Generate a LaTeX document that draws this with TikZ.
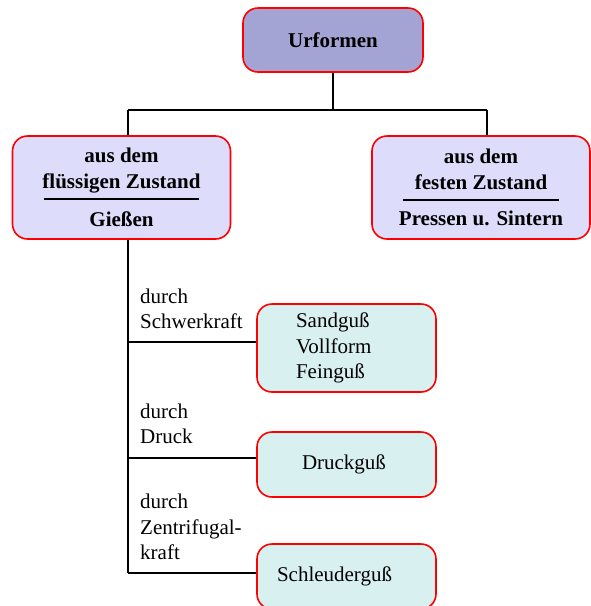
\documentclass[tikz,border=0pt]{standalone}
\usepackage{fontspec}
\setmainfont{Liberation Serif}
\usetikzlibrary{positioning}

\definecolor{randrot}{RGB}{255,0,0}
\definecolor{urfill}{RGB}{164,164,212}
\definecolor{zustfill}{RGB}{221,220,251}
\definecolor{gussfill}{RGB}{217,240,240}

\newcommand{\grundschrift}{\fontsize{21}{25.5}\selectfont}

\tikzset{
  box/.style={draw=randrot, line width=1.6pt, rounded corners=15pt, inner sep=0pt},
  kopf/.style={box, fill=urfill, minimum width=180pt, minimum height=64pt,
    font=\grundschrift\bfseries},
  zustand/.style={box, fill=zustfill, minimum width=218pt, minimum height=103pt,
    align=center, font=\grundschrift\bfseries},
  verfahren/.style={box, fill=gussfill, align=left, font=\grundschrift},
  lbl/.style={align=left, inner sep=0pt, font=\grundschrift},
  linie/.style={line width=1.8pt}
}

\begin{document}
\begin{tikzpicture}[x=1pt, y=-1pt]
  \useasboundingbox (0,0) rectangle (591,606);
  \clip (0,0) rectangle (591,606);

  % Oberbegriff und Zustaende
  \node[kopf] (urformen) at (333,40) {Urformen};
  \node[zustand] (fluessig) at (121.5,187.5)
    {aus dem\\flüssigen Zustand\\[-14pt]\rule{156pt}{1.5pt}\\[1pt]Gießen};
  \node[zustand] (fest) at (481,187.5)
    {aus dem\\festen Zustand\\[-14pt]\rule{156pt}{1.5pt}\\[-1pt]Pressen u. Sintern};

  % Giessverfahren
  \node[verfahren, inner xsep=39pt, text width=101pt, minimum height=88pt]
    (sand) at (346.5,348) {Sandguß\\Vollform\\Feinguß};
  \node[verfahren, inner xsep=45pt, text width=89pt, minimum height=65pt]
    (druck) at (346.5,464.5) {Druckguß};
  \node[verfahren, inner xsep=20pt, text width=139pt, minimum height=65pt]
    (schleuder) at (346.5,576.5) {Schleuderguß};

  \coordinate (split) at (333,110);
  \coordinate (lt) at (128,110);
  \coordinate (rt) at (487,110);
  \coordinate (j1) at (128,342);
  \coordinate (j2) at (128,458);
  \coordinate (j3) at (128,573);

  \begin{scope}[linie]
    \draw (urformen.south) -- (split);
    \draw (lt) -- (rt);
    \draw (lt) -- (lt |- fluessig.north);
    \draw (rt) -- (rt |- fest.north);
    \draw (lt |- fluessig.south) -- (j3);
    \draw (j1) -- (j1 -| sand.west);
    \draw (j2) -- (j2 -| druck.west);
    \draw (j3) -- (j3 -| schleuder.west);
  \end{scope}

  \node[lbl, above right=13pt and 12pt of j1] (schwer) {durch\\Schwerkraft};
  \node[lbl, above right=14pt and 12pt of j2] (drucklbl) {durch\\Druck};
  \node[lbl, above right=13pt and 12pt of j3] (zentri) {durch\\Zentrifugal-\\kraft};
\end{tikzpicture}
\end{document}
